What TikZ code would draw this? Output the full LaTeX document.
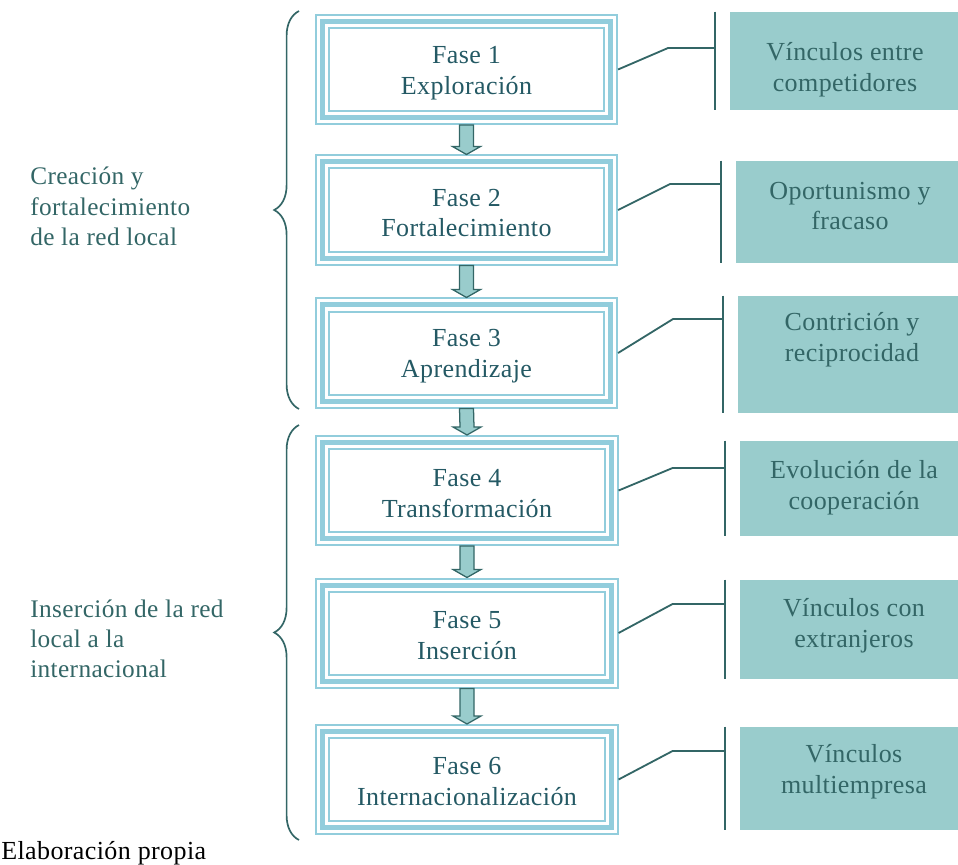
\documentclass[tikz,border=0pt]{standalone}
\usepackage{fontspec}
\setmainfont{Liberation Serif}[LetterSpace=1.5]
\usetikzlibrary{calc,decorations.pathreplacing}

\definecolor{azulfase}{RGB}{146,205,220}
\definecolor{verdevin}{RGB}{153,204,204}
\definecolor{tealosc}{RGB}{51,102,102}
\definecolor{textfase}{RGB}{36,89,100}

\tikzset{
  fase/.style={draw=azulfase, line width=0.125cm,
    preaction={draw=azulfase, line width=0.375cm},
    preaction={draw=white, line width=0.275cm},
    minimum width=7.2cm, minimum height=2.4cm, outer sep=0.1875cm,
    inner sep=0pt},
  fasetexto/.style={align=center, text=textfase, inner sep=0pt,
    font=\fontsize{18.5}{22}\selectfont},
  vinculo/.style={fill=verdevin, inner sep=0pt},
  vintexto/.style={align=center, text=tealosc, inner sep=0pt,
    font=\fontsize{18.5}{22}\selectfont},
  etiqueta/.style={align=left, anchor=west, text=tealosc, inner sep=0pt,
    font=\fontsize{18}{21.5}\selectfont},
  linea/.style={draw=tealosc, line width=1.3pt},
  flecha/.style={fill=verdevin, draw=tealosc, line width=0.9pt},
  llave/.style={draw=tealosc, line width=1.2pt, decorate,
    decoration={brace, amplitude=0.62cm}}
}

% block arrow from the bottom of one phase to the top of the next
\newcommand{\flecha}[2]{%
  \path (#1.south) coordinate (fa) (#2.north) coordinate (fb);
  \filldraw[flecha] ($(fa)+(-7,0)$) -- ($(fb)+(-7,-8)$) -- ($(fb)+(-14,-8)$)
    -- (fb) -- ($(fb)+(14,-8)$) -- ($(fb)+(7,-8)$) -- ($(fa)+(7,0)$) -- cycle;}

\begin{document}
\begin{tikzpicture}[x=0.025cm, y=-0.025cm]

  \useasboundingbox (0,0) rectangle (958,864);

  % phases
  \node[fase] (fase1) at (466.5,69.5) {};
  \node[fase] (fase2) at (466.5,210) {};
  \node[fase] (fase3) at (466.5,353) {};
  \node[fase] (fase4) at (467,490.5) {};
  \node[fase] (fase5) at (467,633) {};
  \node[fase] (fase6) at (467,779.5) {};

  \node[fasetexto] (nom1) at ($(fase1)+(0,4)$) {Fase 1\\Exploración};
  \node[fasetexto] (nom2) at ($(fase2)+(0,3)$) {Fase 2\\Fortalecimiento};
  \node[fasetexto] (nom3) at ($(fase3)+(0,3)$) {Fase 3\\Aprendizaje};
  \node[fasetexto] (nom4) at ($(fase4)+(0,3)$) {Fase 4\\Transformación};
  \node[fasetexto] (nom5) at ($(fase5)+(0,3)$) {Fase 5\\Inserción};
  \node[fasetexto] (nom6) at ($(fase6)+(0,2)$) {Fase 6\\Internacionalización};

  \flecha{fase1}{fase2}
  \flecha{fase2}{fase3}
  \flecha{fase3}{fase4}
  \flecha{fase4}{fase5}
  \flecha{fase5}{fase6}

  % boxes on the right
  \node[vinculo, minimum width=5.7cm, minimum height=2.45cm] (vin1) at (844,61) {};
  \node[vinculo, minimum width=5.55cm, minimum height=2.55cm] (vin2) at (847,212) {};
  \node[vinculo, minimum width=5.5cm, minimum height=2.925cm] (vin3) at (848,354.5) {};
  \node[vinculo, minimum width=5.45cm, minimum height=2.375cm] (vin4) at (849,488.5) {};
  \node[vinculo, minimum width=5.45cm, minimum height=2.475cm] (vin5) at (849,629.5) {};
  \node[vinculo, minimum width=5.45cm, minimum height=2.575cm] (vin6) at (849,778.5) {};

  \node[vintexto] (txt1) at (845,70) {Vínculos entre\\competidores};
  \node[vintexto] (txt2) at (850,206) {Oportunismo y\\fracaso};
  \node[vintexto] (txt3) at (852,340) {Contrición y\\reciprocidad};
  \node[vintexto] (txt4) at (854,488) {Evolución de la\\cooperación};
  \node[vintexto] (txt5) at (854,625.5) {Vínculos con\\extranjeros};
  \node[vintexto] (txt6) at (854,772) {Vínculos\\multiempresa};

  % bars
  \coordinate (b1) at ($(vin1.north west)+(-15,0)$);
  \coordinate (b2) at ($(vin2.north west)+(-15,0)$);
  \coordinate (b3) at ($(vin3.north west)+(-15,0)$);
  \coordinate (b4) at ($(vin4.north west)+(-15,0)$);
  \coordinate (b5) at ($(vin5.north west)+(-15,0)$);
  \coordinate (b6) at ($(vin6.north west)+(-15,0)$);
  \draw[linea] (b1) -- (b1 |- vin1.south);
  \draw[linea] (b2) -- (b2 |- vin2.south);
  \draw[linea] (b3) -- (b3 |- vin3.south);
  \draw[linea] (b4) -- (b4 |- vin4.south);
  \draw[linea] (b5) -- (b5 |- vin5.south);
  \draw[linea] (b6) -- (b6 |- vin6.south);

  % links
  \draw[linea] (fase1.east) -- ++(50,-21.5) coordinate (k1) -- (k1 -| b1);
  \draw[linea] (fase2.east) -- ++(52,-26) coordinate (k2) -- (k2 -| b2);
  \draw[linea] (fase3.east) -- ++(55,-34) coordinate (k3) -- (k3 -| b3);
  \draw[linea] (fase4.east) -- ++(54,-22.5) coordinate (k4) -- (k4 -| b4);
  \draw[linea] (fase5.east) -- ++(54,-29) coordinate (k5) -- (k5 -| b5);
  \draw[linea] (fase6.east) -- ++(54,-28.5) coordinate (k6) -- (k6 -| b6);

  % braces and groups
  \draw[llave] (299,409) -- (299,11);
  \draw[llave] (299,840) -- (299,425);
  \node[etiqueta] (grupo1) at (30,206.5) {Creación y\\fortalecimiento\\de la red local};
  \node[etiqueta] (grupo2) at (30,639) {Inserción de la red\\local a la\\internacional};

  \node[anchor=west, inner sep=0pt, font=\fontsize{18.5}{21.3}\selectfont]
    (fuente) at (1,853) {Elaboración propia};

\end{tikzpicture}
\end{document}
